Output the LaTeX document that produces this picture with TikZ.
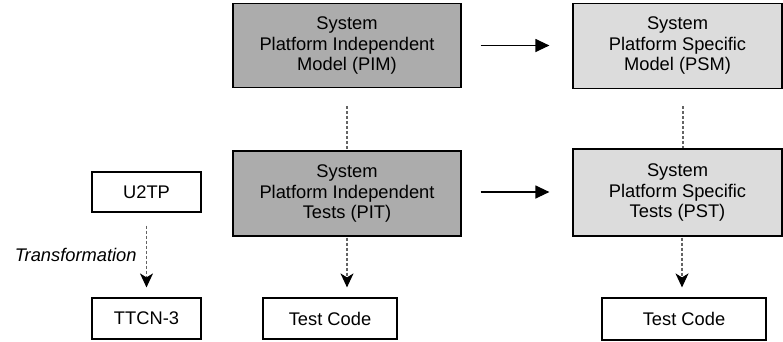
\documentclass[tikz,border=0pt]{standalone}
\usepackage{fontspec}
\setmainfont{Liberation Sans}
\usetikzlibrary{arrows.meta}
\definecolor{darkbox}{RGB}{172,172,172}
\definecolor{lightbox}{RGB}{220,220,220}
\definecolor{dashgray}{RGB}{100,100,100}
\tikzset{
  base/.style={draw=black, line width=1.2pt, align=center, inner sep=0pt,
    font=\fontsize{18.3}{20.5}\selectfont},
  darkmodel/.style={base, fill=darkbox, minimum width=228pt, minimum height=84pt},
  lightmodel/.style={base, fill=lightbox, minimum width=209pt, minimum height=85pt},
  smallbox/.style={base, fill=white, minimum height=41pt},
  solidarrow/.style={line width=1.2pt, -{Triangle[length=14pt 0,width=13pt 0]}},
  dasharrow/.style={draw=dashgray, line width=1.2pt, dash pattern=on 3pt off 2pt},
  dashtip/.style={dasharrow, -{Stealth[length=14pt 0,width=13pt 0,inset=4pt 0,black]}},
}
\begin{document}
\begin{tikzpicture}[x=1pt,y=-1pt]
\useasboundingbox (0,0) rectangle (783,341);
\fill[white] (0,0) rectangle (783,341);

\node[darkmodel] (pim) at (347,45.5) {System\\Platform Independent\\Model (PIM)};
\node[lightmodel] (psm) at (677.5,46) {System\\Platform Specific\\Model (PSM)};
\node[darkmodel, minimum height=85pt] (pit) at (347,193.5) {System\\Platform Independent\\Tests (PIT)};
\node[lightmodel, minimum height=87pt] (pst) at (677.5,192.5) {System\\Platform Specific\\Tests (PST)};

\node[smallbox, minimum width=109pt, minimum height=40pt] (u2tp) at (146.5,192) {U2TP};
\node[smallbox, minimum width=109pt] (ttcn) at (146.5,318.5) {TTCN-3};
\node[smallbox, minimum width=134pt] (tc1) at (330,318.5) {Test Code};
\node[smallbox, minimum width=164pt, minimum height=42pt] (tc2) at (684,319) {Test Code};

% horizontal transformations
\draw[solidarrow, shorten <=19pt, shorten >=23pt] (pim.east) -- (psm.west |- pim.east);
\draw[solidarrow, shorten <=19pt, shorten >=23pt] (pit.east |- 0,192) -- (pst.west |- 0,192);

% vertical dashed links
\draw[dasharrow, shorten <=18pt] (pim.south) -- (pit.north);
\coordinate (psmx) at ([xshift=5.5pt]psm.south);
\draw[dasharrow, shorten <=17pt] (psmx) -- (psmx |- pst.north);

% dashed arrows to code
\draw[dashtip, shorten <=1pt, shorten >=10pt] (pit.south) -- (pit.south |- tc1.north);
\coordinate (pstx) at ([xshift=4.5pt]pst.south);
\draw[dashtip, shorten <=1pt, shorten >=10pt] (pstx) -- (pstx |- tc2.north);
\draw[dashtip, shorten <=13pt, shorten >=10pt] (u2tp.south) -- (ttcn.north)
  node[midway, left=6pt, font=\fontsize{18.3}{20.5}\selectfont\itshape, text=black] (tr) {Transformation};
\end{tikzpicture}
\end{document}
